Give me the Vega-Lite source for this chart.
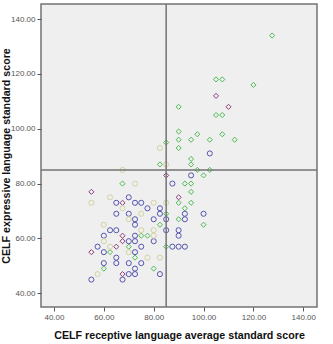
{
  "$schema": "https://vega.github.io/schema/vega-lite/v6.json",
  "width": 276,
  "height": 303,
  "autosize": "none",
  "padding": {"left": 41, "top": 4, "right": 16, "bottom": 37},
  "background": "white",
  "config": {
    "view": {"fill": "#efefef", "stroke": "#737373", "strokeWidth": 1.5},
    "axis": {
      "grid": false,
      "domain": false,
      "ticks": true,
      "tickSize": 4,
      "tickColor": "#555555",
      "labelFont": "Liberation Sans",
      "labelFontSize": 8,
      "labelColor": "#555555",
      "labelPadding": 2,
      "titleFont": "Liberation Sans",
      "titleFontWeight": "bold",
      "titleFontSize": 10.7,
      "titleColor": "#111111"
    }
  },
  "datasets": {
    "scores": [
      {"grp": "G", "rec": 127.5, "exp": 134}, {"grp": "G", "rec": 105, "exp": 118}, {"grp": "G", "rec": 107.5, "exp": 118},
      {"grp": "G", "rec": 120, "exp": 116}, {"grp": "G", "rec": 90, "exp": 108}, {"grp": "G", "rec": 105, "exp": 105},
      {"grp": "G", "rec": 107.5, "exp": 105}, {"grp": "G", "rec": 90, "exp": 99}, {"grp": "G", "rec": 90, "exp": 96},
      {"grp": "G", "rec": 90, "exp": 93}, {"grp": "G", "rec": 95, "exp": 96}, {"grp": "G", "rec": 97.5, "exp": 98},
      {"grp": "G", "rec": 102.5, "exp": 96}, {"grp": "G", "rec": 107.5, "exp": 98}, {"grp": "G", "rec": 112.5, "exp": 96},
      {"grp": "G", "rec": 85, "exp": 95}, {"grp": "G", "rec": 82.5, "exp": 87}, {"grp": "G", "rec": 95, "exp": 89},
      {"grp": "G", "rec": 95, "exp": 87}, {"grp": "G", "rec": 97.5, "exp": 85}, {"grp": "G", "rec": 102.5, "exp": 85},
      {"grp": "G", "rec": 100, "exp": 83}, {"grp": "G", "rec": 92.5, "exp": 80}, {"grp": "G", "rec": 95, "exp": 80},
      {"grp": "G", "rec": 95, "exp": 77}, {"grp": "G", "rec": 95, "exp": 73}, {"grp": "G", "rec": 90, "exp": 73},
      {"grp": "G", "rec": 92.5, "exp": 71}, {"grp": "G", "rec": 100, "exp": 65}, {"grp": "G", "rec": 90, "exp": 67},
      {"grp": "G", "rec": 85, "exp": 69}, {"grp": "G", "rec": 82.5, "exp": 65}, {"grp": "G", "rec": 85, "exp": 57},
      {"grp": "G", "rec": 67.5, "exp": 80}, {"grp": "G", "rec": 80, "exp": 49}, {"grp": "G", "rec": 75, "exp": 61},
      {"grp": "G", "rec": 77.5, "exp": 61}, {"grp": "G", "rec": 72.5, "exp": 53}, {"grp": "G", "rec": 70, "exp": 57},
      {"grp": "G", "rec": 62.5, "exp": 55}, {"grp": "G", "rec": 60, "exp": 49},

      {"grp": "M", "rec": 105, "exp": 112}, {"grp": "M", "rec": 110, "exp": 108}, {"grp": "M", "rec": 85, "exp": 83},
      {"grp": "M", "rec": 90, "exp": 75}, {"grp": "M", "rec": 55, "exp": 77}, {"grp": "M", "rec": 67.5, "exp": 73},
      {"grp": "M", "rec": 67.5, "exp": 61}, {"grp": "M", "rec": 67.5, "exp": 59}, {"grp": "M", "rec": 65, "exp": 57},
      {"grp": "M", "rec": 55, "exp": 55}, {"grp": "M", "rec": 67.5, "exp": 47},

      {"grp": "B", "rec": 102.5, "exp": 91}, {"grp": "B", "rec": 95, "exp": 83}, {"grp": "B", "rec": 87.5, "exp": 80},
      {"grp": "B", "rec": 100, "exp": 69}, {"grp": "B", "rec": 92.5, "exp": 69}, {"grp": "B", "rec": 92.5, "exp": 67},
      {"grp": "B", "rec": 90, "exp": 63}, {"grp": "B", "rec": 90, "exp": 61}, {"grp": "B", "rec": 87.5, "exp": 57},
      {"grp": "B", "rec": 90, "exp": 57}, {"grp": "B", "rec": 92.5, "exp": 57}, {"grp": "B", "rec": 85, "exp": 67},
      {"grp": "B", "rec": 85, "exp": 63}, {"grp": "B", "rec": 82.5, "exp": 69}, {"grp": "B", "rec": 82.5, "exp": 71},
      {"grp": "B", "rec": 80, "exp": 67}, {"grp": "B", "rec": 70, "exp": 75}, {"grp": "B", "rec": 65, "exp": 73},
      {"grp": "B", "rec": 72.5, "exp": 73}, {"grp": "B", "rec": 75, "exp": 73}, {"grp": "B", "rec": 77.5, "exp": 71},
      {"grp": "B", "rec": 65, "exp": 69}, {"grp": "B", "rec": 70, "exp": 69}, {"grp": "B", "rec": 72.5, "exp": 67},
      {"grp": "B", "rec": 72.5, "exp": 65}, {"grp": "B", "rec": 62.5, "exp": 63}, {"grp": "B", "rec": 65, "exp": 63},
      {"grp": "B", "rec": 60, "exp": 61}, {"grp": "B", "rec": 72.5, "exp": 61}, {"grp": "B", "rec": 70, "exp": 59},
      {"grp": "B", "rec": 72.5, "exp": 59}, {"grp": "B", "rec": 80, "exp": 59}, {"grp": "B", "rec": 57.5, "exp": 57},
      {"grp": "B", "rec": 75, "exp": 57}, {"grp": "B", "rec": 60, "exp": 55}, {"grp": "B", "rec": 72.5, "exp": 55},
      {"grp": "B", "rec": 65, "exp": 53}, {"grp": "B", "rec": 60, "exp": 51}, {"grp": "B", "rec": 65, "exp": 51},
      {"grp": "B", "rec": 70, "exp": 51}, {"grp": "B", "rec": 75, "exp": 51}, {"grp": "B", "rec": 72.5, "exp": 49},
      {"grp": "B", "rec": 70, "exp": 47}, {"grp": "B", "rec": 72.5, "exp": 47}, {"grp": "B", "rec": 82.5, "exp": 47},
      {"grp": "B", "rec": 55, "exp": 45}, {"grp": "B", "rec": 67.5, "exp": 45},

      {"grp": "Y", "rec": 82.5, "exp": 93}, {"grp": "Y", "rec": 85, "exp": 87}, {"grp": "Y", "rec": 67.5, "exp": 85},
      {"grp": "Y", "rec": 72.5, "exp": 80}, {"grp": "Y", "rec": 62.5, "exp": 75}, {"grp": "Y", "rec": 55, "exp": 73},
      {"grp": "Y", "rec": 80, "exp": 73}, {"grp": "Y", "rec": 85, "exp": 73}, {"grp": "Y", "rec": 67.5, "exp": 71},
      {"grp": "Y", "rec": 75, "exp": 69}, {"grp": "Y", "rec": 70, "exp": 67}, {"grp": "Y", "rec": 60, "exp": 65},
      {"grp": "Y", "rec": 75, "exp": 63}, {"grp": "Y", "rec": 80, "exp": 63}, {"grp": "Y", "rec": 80, "exp": 61},
      {"grp": "Y", "rec": 60, "exp": 59}, {"grp": "Y", "rec": 62.5, "exp": 57}, {"grp": "Y", "rec": 70, "exp": 55},
      {"grp": "Y", "rec": 77.5, "exp": 53}, {"grp": "Y", "rec": 82.5, "exp": 53}, {"grp": "Y", "rec": 57.5, "exp": 47}
    ],
    "cutoffs": [{"cut": 85}]
  },
  "layer": [
    {
      "data": {"name": "scores"},
      "mark": {"type": "point", "filled": false, "strokeWidth": 1, "opacity": 1},
      "encoding": {
        "x": {
          "field": "rec", "type": "quantitative",
          "title": "CELF receptive language average standard score",
          "scale": {"domain": [34.8, 145.5], "nice": false, "zero": false},
          "axis": {"values": [40, 60, 80, 100, 120, 140], "format": ".2f", "titlePadding": 9}
        },
        "y": {
          "field": "exp", "type": "quantitative",
          "title": "CELF expressive language standard score",
          "scale": {"domain": [35, 145.5], "nice": false, "zero": false},
          "axis": {"values": [40, 60, 80, 100, 120, 140], "format": ".2f", "titleX": -30, "titleY": 151.5}
        },
        "color": {
          "field": "grp", "type": "nominal", "legend": null,
          "scale": {"domain": ["Y", "B", "M", "G"], "range": ["#d4d2a2", "#5555b0", "#8e3c7c", "#4cbb52"]}
        },
        "shape": {
          "field": "grp", "type": "nominal", "legend": null,
          "scale": {"domain": ["Y", "B", "M", "G"], "range": ["circle", "circle", "diamond", "diamond"]}
        },
        "size": {
          "field": "grp", "type": "nominal", "legend": null,
          "scale": {"domain": ["Y", "B", "M", "G"], "range": [26, 26, 44, 44]}
        }
      }
    },
    {
      "data": {"name": "cutoffs"},
      "mark": {"type": "rule", "color": "#737373", "strokeWidth": 1.5},
      "encoding": {"x": {"field": "cut", "type": "quantitative"}}
    },
    {
      "data": {"name": "cutoffs"},
      "mark": {"type": "rule", "color": "#737373", "strokeWidth": 1.5},
      "encoding": {"y": {"field": "cut", "type": "quantitative"}}
    }
  ]
}
